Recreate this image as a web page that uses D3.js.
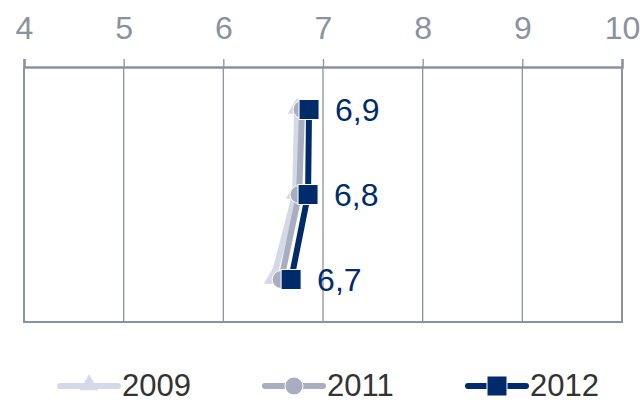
<!DOCTYPE html>
<html>
<head>
<meta charset="utf-8">
<script src="https://cdn.jsdelivr.net/npm/d3@7"></script>
<style>
  body { margin: 0; background: #fff; }
  text { font-family: "Liberation Sans", Arial, sans-serif; }
</style>
</head>
<body>
<div id="chart"></div>
<script>
// data
var categories = ["r1", "r2", "r3"];
var years = ["2009", "2011", "2012"];
var values2009 = [6.74, 6.72, 6.50];
var values2011 = [6.79, 6.76, 6.58];
var values2012 = [6.86, 6.85, 6.68];
var labels2012 = ["6,9", "6,8", "6,7"];
var tickValues = [4, 5, 6, 7, 8, 9, 10];

var svgWidth = 644;
var svgHeight = 402;

var svg = d3.select("#chart")
  .append("svg")
  .attr("width", svgWidth)
  .attr("height", svgHeight);

var x = d3.scaleLinear().domain([4, 10]).range([24, 622]);
var y = d3.scaleBand().domain(categories).range([67, 322]);

var gridColor = "#8a929f";

// vertical grid lines
svg.append("g").selectAll("line")
  .data(tickValues)
  .enter()
  .append("line")
  .attr("x1", d => x(d))
  .attr("x2", d => x(d))
  .attr("y1", 67)
  .attr("y2", 322)
  .attr("stroke", gridColor)
  .attr("stroke-width", d => (d == 4 || d == 10) ? 2 : 1.3);

// bottom border
svg.append("line")
  .attr("x1", x(4) - 1).attr("x2", x(10) + 1)
  .attr("y1", 322).attr("y2", 322)
  .attr("stroke", gridColor).attr("stroke-width", 2);

// top axis
var topAxis = d3.axisTop(x).tickValues(tickValues).tickSize(8).tickPadding(20)
  .tickFormat(d3.format("d"));
var axisG = svg.append("g")
  .attr("transform", "translate(0,67)")
  .call(topAxis);
axisG.select(".domain").attr("stroke", gridColor).attr("stroke-width", 2.5);
axisG.selectAll(".tick line").attr("stroke", gridColor).attr("stroke-width", 1.3);
axisG.selectAll(".tick text")
  .attr("fill", "#8a929f")
  .style("font-size", "32px")
  .style("font-family", "Liberation Sans, Arial, sans-serif");

var series = [
  { name: "2009", values: values2009, color: "#d5d8e6", marker: "triangle" },
  { name: "2011", values: values2011, color: "#a9adc0", marker: "circle" },
  { name: "2012", values: values2012, color: "#002b6a", marker: "square" }
];

var line = d3.line()
  .x(d => x(d.v))
  .y(d => y(d.c) + y.bandwidth() / 2);

function drawMarker(g, type, cx, cy, color) {
  if (type == "triangle") {
    g.append("path")
      .attr("d", d3.symbol().type(d3.symbolTriangle).size(150)())
      .attr("transform", "translate(" + cx + "," + (cy - 1) + ")")
      .attr("fill", color);
  } else if (type == "circle") {
    g.append("circle")
      .attr("cx", cx).attr("cy", cy).attr("r", 9)
      .attr("fill", color)
      .attr("stroke", "#fff").attr("stroke-width", 1);
  } else {
    g.append("rect")
      .attr("x", cx - 10).attr("y", cy - 10)
      .attr("width", 20).attr("height", 20)
      .attr("fill", color)
      .attr("stroke", "#fff").attr("stroke-width", 1);
  }
}

series.forEach(function(s) {
  var pts = s.values.map((v, i) => ({ v: v, c: categories[i] }));
  var g = svg.append("g");
  g.append("path")
    .datum(pts)
    .attr("d", line)
    .attr("fill", "none")
    .attr("stroke", s.color)
    .attr("stroke-width", 6);
  pts.forEach(function(p) {
    drawMarker(g, s.marker, x(p.v), y(p.c) + y.bandwidth() / 2, s.color);
  });
});

// labels for 2012
svg.append("g").selectAll("text")
  .data(values2012)
  .enter()
  .append("text")
  .attr("x", d => x(d) + 26)
  .attr("y", (d, i) => y(categories[i]) + y.bandwidth() / 2)
  .attr("dy", "0.36em")
  .attr("fill", "#002b6a")
  .style("font-size", "32px")
  .text((d, i) => labels2012[i]);

// legend
var legendX = [60, 265, 468];
var legend = svg.append("g");
series.forEach(function(s, i) {
  var lx = legendX[i];
  var ly = 386;
  legend.append("line")
    .attr("x1", lx).attr("x2", lx + 58)
    .attr("y1", ly).attr("y2", ly)
    .attr("stroke", s.color).attr("stroke-width", 6)
    .attr("stroke-linecap", "round");
  drawMarker(legend, s.marker, lx + 29, ly, s.color);
  legend.append("text")
    .attr("x", lx + 62)
    .attr("y", 396)
    .attr("fill", "#333")
    .style("font-size", "31px")
    .text(s.name);
});
</script>
</body>
</html>
